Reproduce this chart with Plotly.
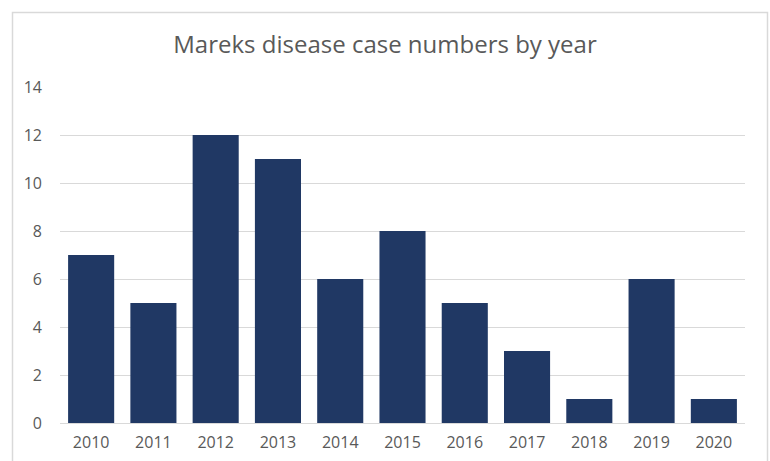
import plotly.graph_objects as go

years = ["2010", "2011", "2012", "2013", "2014", "2015", "2016", "2017", "2018", "2019", "2020"]
cases = [7, 5, 12, 11, 6, 8, 5, 3, 1, 6, 1]
y_ticks = [0, 2, 4, 6, 8, 10, 12, 14]

W, H = 770, 461
L, R, T, B = 60, 25, 87, 38
pw, ph = W - L - R, H - T - B

def px_x(x):
    return (x - L) / pw

def px_y(y):
    return (H - B - y) / ph

fig = go.Figure(go.Bar(x=years, y=cases, marker=dict(color="#203864", line=dict(width=0)), width=0.74))

fig.update_layout(
    width=W, height=H,
    margin=dict(l=L, r=R, t=T, b=B, autoexpand=False),
    paper_bgcolor="white", plot_bgcolor="white",
    title=dict(text="Mareks disease case numbers by year", x=0.5, xanchor="center",
               y=1 - 45 / H, yanchor="middle",
               font=dict(family="Open Sans, Liberation Sans, sans-serif", size=24, color="#595959")),
    font=dict(family="Open Sans, Liberation Sans, sans-serif", size=13, color="#595959"),
    showlegend=False,
    bargap=0.26,
    xaxis=dict(type="category", showgrid=False, showline=True, linecolor="#d9d9d9", linewidth=1,
               automargin=False,
               ticks="", ticklabelstandoff=5, tickfont=dict(size=16, color="#595959"), fixedrange=True),
    yaxis=dict(range=[0, 14], tickvals=y_ticks, showgrid=True, gridcolor="#d9d9d9", gridwidth=1,
               automargin=False,
               zeroline=False, showline=False, ticks="", ticklabelstandoff=17,
               tickfont=dict(size=16, color="#595959"), fixedrange=True),
    shapes=[dict(type="rect", xref="paper", yref="paper",
                 x0=px_x(12.5), x1=px_x(767.5), y0=px_y(12.5), y1=px_y(475),
                 line=dict(color="#d9d9d9", width=1.5), fillcolor="rgba(0,0,0,0)", layer="below")],
)

fig.write_html("out.html")
